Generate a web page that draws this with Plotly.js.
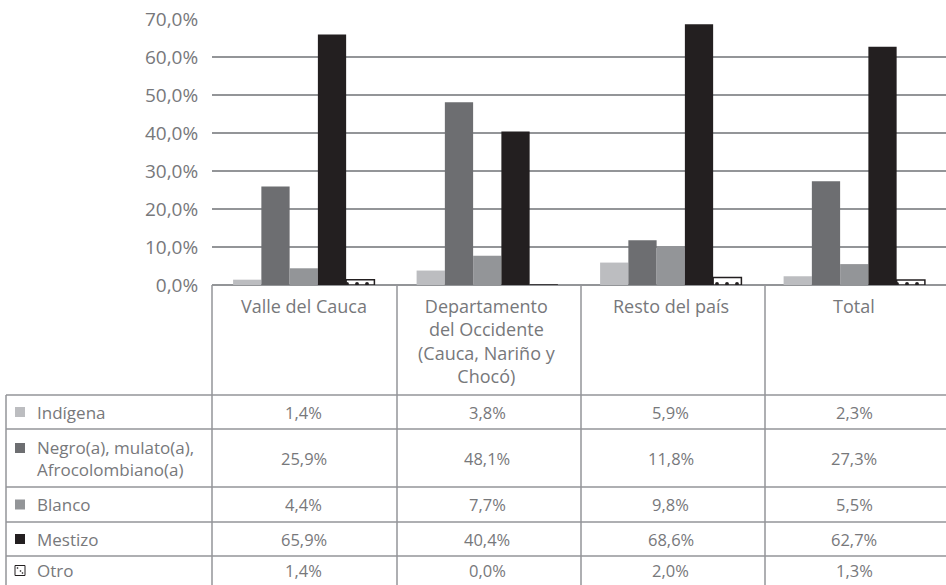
<!DOCTYPE html>
<html><head><meta charset="utf-8">
<script src="https://cdn.plot.ly/plotly-3.0.1.min.js"></script>
<style>body{margin:0;background:#fff}#c{width:946px;height:585px}</style>
</head><body><div id="c"></div>
<script>
const categories = ["Valle del Cauca", "Departamento del Occidente (Cauca, Nariño y Chocó)", "Resto del país", "Total"];
const categoryLabels = ["Valle del Cauca", "Departamento<br>del Occidente<br>(Cauca, Nariño y<br>Chocó)", "Resto del país", "Total"];
const seriesNames = ["Indígena", "Negro(a), mulato(a), Afrocolombiano(a)", "Blanco", "Mestizo", "Otro"];
const seriesLabels = ["Indígena", "Negro(a), mulato(a),<br>Afrocolombiano(a)", "Blanco", "Mestizo", "Otro"];
const indigena = [1.4, 3.8, 5.9, 2.3];
const negro = [25.9, 48.1, 11.8, 27.3];
const blanco = [4.4, 7.7, 9.8, 5.5];
const mestizo = [65.9, 40.4, 68.6, 62.7];
const otro = [1.4, 0.0, 2.0, 1.3];
const yTicks = [0, 10, 20, 30, 40, 50, 60, 70];

const seriesValues = [indigena, negro, blanco, mestizo, otro];
const colors = ["#bcbdc0", "#6d6e71", "#939598", "#231f20", "#ffffff"];
const fmt = v => v.toFixed(1).replace(".", ",") + "%";

const W = 946, H = 585, L = 212, T = 19, B = 300, R = 0;
const pw = W - L - R, ph = H - T - B;
const px = x => (x - L) / pw;
const py = y => (H - B - y) / ph;
const gridCol = "#939598";
const txtCol = "#77787b";
const FONT = "'Open Sans', Lato, sans-serif";

const traces = seriesValues.map((vals, i) => {
  const t = {
    type: "bar", name: seriesNames[i], x: categories, y: vals,
    marker: { color: colors[i], line: { width: 0 } },
    hoverinfo: "skip"
  };
  if (i === 4) {
    t.marker = { color: "#ffffff", line: { color: "#231f20", width: 1.5 },
      pattern: { shape: ".", fgcolor: "#231f20", bgcolor: "#ffffff", size: 10, solidity: 0.12 } };
  }
  return t;
});

const shapes = [];
const annotations = [];
const line = (x0, y0, x1, y1) => shapes.push({ type: "line", xref: "paper", yref: "paper",
  x0: px(x0), y0: py(y0), x1: px(x1), y1: py(y1), line: { color: gridCol, width: 1.5 } });

// table grid
const colX = [212, 397, 581, 765];
colX.forEach(x => line(x, 285, x, 585));
line(6, 395, 6, 585);
const rowY = [395, 429, 487, 522, 556];
rowY.forEach(y => line(6, y, 946, y));
const rowCenters = [412, 458, 504.5, 539, 570.5];

// category headers
categories.forEach((c, j) => annotations.push({ xref: "x", yref: "paper", x: c, y: py(292),
  yanchor: "top", xanchor: "center", text: categoryLabels[j], showarrow: false, align: "center",
  font: { family: FONT, size: 18, color: txtCol } }));

// rows
seriesValues.forEach((vals, i) => {
  const cy = rowCenters[i];
  annotations.push({ xref: "paper", yref: "paper", x: px(35), y: py(cy), xanchor: "left", yanchor: "middle",
    text: seriesLabels[i], showarrow: false, align: "left", font: { family: FONT, size: 17, color: txtCol } });
  const my = (i === 1) ? cy - 10 : cy;
  shapes.push({ type: "rect", xref: "paper", yref: "paper", x0: px(15), x1: px(25), y0: py(my - 5), y1: py(my + 5),
    fillcolor: colors[i], line: { width: i === 4 ? 1 : 0, color: "#231f20" } });
  if (i === 4) {
    [[17.5, my - 2.5], [20.5, my + 0.5], [22.5, my + 2.5]].forEach(d => shapes.push({ type: "rect", xref: "paper", yref: "paper",
      x0: px(d[0] - 0.7), x1: px(d[0] + 0.7), y0: py(d[1] - 0.7), y1: py(d[1] + 0.7), fillcolor: "#231f20", line: { width: 0 } }));
  }
  vals.forEach((v, j) => annotations.push({ xref: "x", yref: "paper", x: categories[j], y: py(cy),
    xanchor: "center", yanchor: "middle", text: fmt(v), showarrow: false,
    font: { family: FONT, size: 16.5, color: txtCol } }));
});

const layout = {
  width: W, height: H, margin: { l: L, r: R, t: T, b: B, pad: 0 },
  paper_bgcolor: "#fff", plot_bgcolor: "#fff",
  showlegend: false, barmode: "group", bargap: 0.23, bargroupgap: 0,
  font: { family: FONT, color: txtCol },
  xaxis: { showticklabels: false, showgrid: false, zeroline: false, showline: false, ticks: "", fixedrange: true },
  yaxis: { range: [0, 70], tickmode: "array", tickvals: yTicks, ticktext: yTicks.map(fmt),
    showgrid: true, gridcolor: gridCol, gridwidth: 1.5, zeroline: true, zerolinecolor: gridCol, zerolinewidth: 1.5,
    showline: false, ticks: "outside", ticklen: 9, tickcolor: "rgba(0,0,0,0)",
    tickfont: { family: FONT, size: 19, color: txtCol } },
  shapes, annotations
};
Plotly.newPlot("c", traces, layout, { displayModeBar: false, staticPlot: true });
</script></body></html>
